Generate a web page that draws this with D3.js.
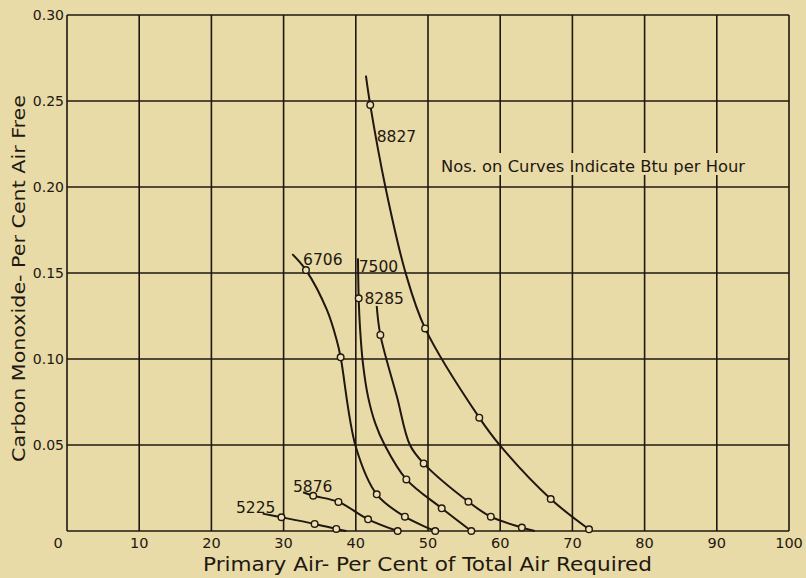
<!DOCTYPE html>
<html>
<head>
<meta charset="utf-8">
<script src="https://cdn.jsdelivr.net/npm/d3@7"></script>
<style>
  html, body { margin: 0; padding: 0; background: #e8dba7; }
  svg { display: block; }
  text { font-family: "DejaVu Sans", sans-serif; fill: #1f1710; }
</style>
</head>
<body>
<svg id="chart" width="806" height="578"></svg>
<script>
// ---- data ----
const xTicks = [0, 10, 20, 30, 40, 50, 60, 70, 80, 90, 100];
const xTickLabels = ["0", "10", "20", "30", "40", "50", "60", "70", "80", "90", "100"];
const yTicks = [0.05, 0.10, 0.15, 0.20, 0.25, 0.30];
const yTickLabels = ["0.05", "0.10", "0.15", "0.20", "0.25", "0.30"];

const curveNames = ["5225", "5876", "6706", "7500", "8285", "8827"];

// traced path points per curve (x = primary air %, y = CO %)
const pathX = [
  [27.1, 29.7, 34.3, 37.3, 38.7],
  [32.7, 34.1, 37.6, 41.7, 45.8],
  [31.2, 33.1, 36.0, 37.35, 37.9, 40.0, 42.9, 46.8, 51.0],
  [40.3, 40.4, 40.6, 41.0, 41.7, 42.7, 44.0, 47.0, 51.9, 56.0],
  [42.9, 43.4, 45.7, 47.5, 49.4, 55.6, 58.7, 63.0, 64.8],
  [41.4, 42.0, 44.1, 46.9, 49.6, 57.1, 60.0, 67.0, 72.3]
];
const pathY = [
  [0.0101, 0.0080, 0.0041, 0.0012, 0.0],
  [0.0225, 0.0205, 0.0169, 0.0068, 0.0],
  [0.161, 0.1517, 0.1285, 0.111, 0.101, 0.049, 0.0213, 0.0083, 0.0],
  [0.1585, 0.1353, 0.117, 0.097, 0.078, 0.0626, 0.050, 0.030, 0.0132, 0.0],
  [0.1308, 0.114, 0.078, 0.050, 0.0393, 0.017, 0.0083, 0.002, 0.0],
  [0.2647, 0.2477, 0.200, 0.150, 0.1178, 0.0659, 0.0496, 0.0186, 0.001]
];
// measured points (small open circles)
const markX = [
  [29.7, 34.3, 37.3],
  [34.1, 37.6, 41.7, 45.8],
  [33.1, 37.9, 42.9, 46.8, 51.0],
  [40.4, 47.0, 51.9, 56.0],
  [43.4, 49.4, 55.6, 58.7, 63.0],
  [42.0, 49.6, 57.1, 67.0, 72.3]
];
const markY = [
  [0.0080, 0.0041, 0.0012],
  [0.0205, 0.0169, 0.0068, 0.0],
  [0.1517, 0.101, 0.0213, 0.0083, 0.0],
  [0.1353, 0.030, 0.0132, 0.0],
  [0.114, 0.0393, 0.017, 0.0083, 0.002],
  [0.2477, 0.1178, 0.0659, 0.0186, 0.001]
];
// curve label anchors (data units, left/baseline)
const labelX = [23.4, 31.3, 32.7, 40.4, 41.2, 42.9];
const labelY = [0.0106, 0.0228, 0.1547, 0.1508, 0.132, 0.2263];

const noteText = "Nos. on Curves Indicate Btu per Hour";
const xTitle = "Primary Air- Per Cent of Total Air Required";
const yTitle = "Carbon Monoxide- Per Cent Air Free";

// ---- drawing ----
const ink = "#1f1710";
const paper = "#e8dba7";
const svg = d3.select("#chart");
const pLeft = 67, pRight = 789, pTop = 15, pBottom = 531;

const x = d3.scaleLinear().domain([0, 100]).range([pLeft, pRight]);
const y = d3.scaleLinear().domain([0, 0.30]).range([pBottom, pTop]);

// grid
const g = svg.append("g");
g.selectAll("line.v").data(xTicks).join("line")
  .attr("class", "v")
  .attr("x1", d => x(d)).attr("x2", d => x(d))
  .attr("y1", pTop).attr("y2", pBottom)
  .attr("stroke", ink).attr("stroke-width", 1.6);
g.selectAll("line.h").data([0].concat(yTicks)).join("line")
  .attr("class", "h")
  .attr("x1", pLeft).attr("x2", pRight)
  .attr("y1", d => y(d)).attr("y2", d => y(d))
  .attr("stroke", ink).attr("stroke-width", 1.6);

// x tick labels
svg.append("g").selectAll("text").data(xTicks).join("text")
  .attr("x", (d, i) => i === 0 ? x(d) - 9 : x(d))
  .attr("y", pBottom + 17)
  .attr("text-anchor", "middle")
  .attr("font-size", 14.5)
  .text((d, i) => xTickLabels[i]);

// y tick labels
svg.append("g").selectAll("text").data(yTicks).join("text")
  .attr("x", pLeft - 3)
  .attr("y", d => y(d) + 5)
  .attr("text-anchor", "end")
  .attr("font-size", 14)
  .text((d, i) => yTickLabels[i]);

// curves
const line = d3.line()
  .x(d => x(d[0])).y(d => y(d[1]))
  .curve(d3.curveCatmullRom.alpha(0.5));

curveNames.forEach((name, k) => {
  const pts = pathX[k].map((v, i) => [v, pathY[k][i]]);
  svg.append("path").datum(pts)
    .attr("d", line)
    .attr("fill", "none")
    .attr("stroke", ink)
    .attr("stroke-width", 2);
});
curveNames.forEach((name, k) => {
  const pts = markX[k].map((v, i) => [v, markY[k][i]]);
  svg.append("g").selectAll("circle").data(pts).join("circle")
    .attr("cx", d => x(d[0])).attr("cy", d => y(d[1]))
    .attr("r", 3.3)
    .attr("fill", "#ece1b0")
    .attr("stroke", ink)
    .attr("stroke-width", 1.4);
});

// curve labels
svg.append("g").selectAll("text").data(curveNames).join("text")
  .attr("x", (d, i) => x(labelX[i]))
  .attr("y", (d, i) => y(labelY[i]))
  .attr("font-size", 15.5)
  .text(d => d);

// note (with blanked background like the reference)
svg.append("rect")
  .attr("x", 438).attr("y", 153).attr("width", 310).attr("height", 22)
  .attr("fill", paper);
svg.append("text")
  .attr("x", 441).attr("y", 171.5)
  .attr("font-size", 16)
  .attr("textLength", 304).attr("lengthAdjust", "spacingAndGlyphs")
  .text(noteText);

// axis titles
svg.append("text")
  .attr("x", 203).attr("y", 571)
  .attr("font-size", 19.5)
  .attr("textLength", 449).attr("lengthAdjust", "spacingAndGlyphs")
  .text(xTitle);

svg.append("text")
  .attr("transform", "translate(25,462) rotate(-90)")
  .attr("font-size", 18)
  .attr("textLength", 367).attr("lengthAdjust", "spacingAndGlyphs")
  .text(yTitle);
</script>
</body>
</html>
